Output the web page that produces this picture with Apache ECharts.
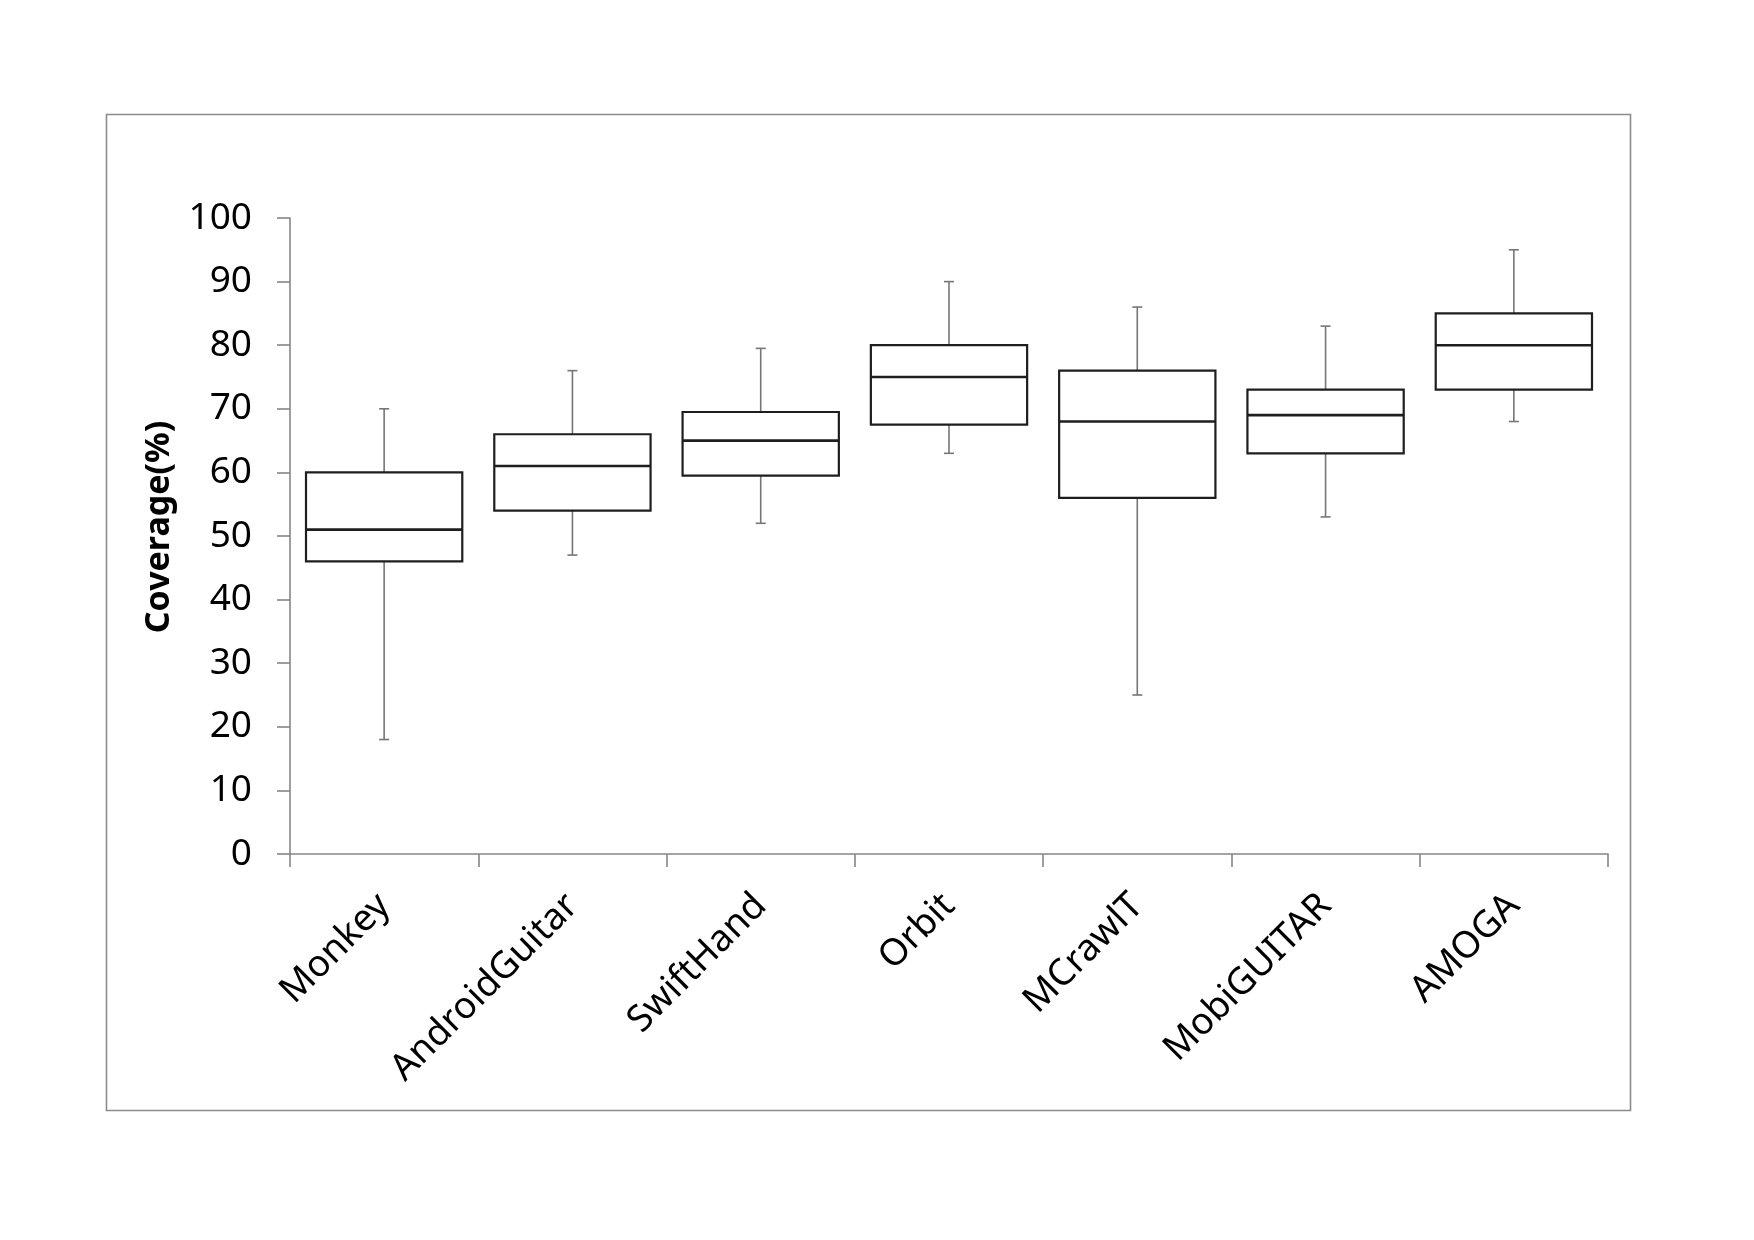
<!DOCTYPE html>
<html lang="en">
<head>
  <meta charset="UTF-8">
  <title>Coverage boxplot</title>
  <script src="https://cdn.jsdelivr.net/npm/echarts@6/dist/echarts.min.js"></script>
  <style>
    html, body { margin: 0; padding: 0; background: #fff; }
  </style>
</head>
<body>
  <div id="chart" style="width: 1754px; height: 1240px"></div>

  <script>
    const tools = ['Monkey', 'AndroidGuitar', 'SwiftHand', 'Orbit', 'MCrawlT', 'MobiGUITAR', 'AMOGA']
    const whiskerLow = [18, 47, 52, 63, 25, 53, 68]
    const q1 = [46, 54, 59.5, 67.5, 56, 63, 73]
    const median = [51, 61, 65, 75, 68, 69, 80]
    const q3 = [60, 66, 69.5, 80, 76, 73, 85]
    const whiskerHigh = [70, 76, 79.5, 90, 86, 83, 95]
    const yTicks = { min: 0, max: 100, interval: 10 }

    const dom = document.getElementById('chart')
    const myChart = echarts.init(dom)

    const boxData = tools.map((name, i) => [i, whiskerLow[i], q1[i], median[i], q3[i], whiskerHigh[i]])

    const boxColor = '#1e1e1e'
    const whiskerColor = '#767676'
    const axisColor = '#868686'

    function renderBox(params, api) {
      const x = api.value(0)
      const pLow = api.coord([x, api.value(1)])
      const pQ1 = api.coord([x, api.value(2)])
      const pMed = api.coord([x, api.value(3)])
      const pQ3 = api.coord([x, api.value(4)])
      const pHigh = api.coord([x, api.value(5)])
      const halfW = api.size([1, 0])[0] * 0.415
      const cap = 5
      const cx = pMed[0]
      const wStyle = { stroke: whiskerColor, lineWidth: 1.6 }
      return {
        type: 'group',
        children: [
          // 须线
          { type: 'line', shape: { x1: cx, y1: pQ3[1], x2: cx, y2: pHigh[1] }, style: wStyle },
          { type: 'line', shape: { x1: cx - cap, y1: pHigh[1], x2: cx + cap, y2: pHigh[1] }, style: wStyle },
          { type: 'line', shape: { x1: cx, y1: pQ1[1], x2: cx, y2: pLow[1] }, style: wStyle },
          { type: 'line', shape: { x1: cx - cap, y1: pLow[1], x2: cx + cap, y2: pLow[1] }, style: wStyle },
          // 箱体
          {
            type: 'rect',
            shape: { x: cx - halfW, y: pQ3[1], width: halfW * 2, height: pQ1[1] - pQ3[1] },
            style: { fill: '#fff', stroke: boxColor, lineWidth: 2.2 }
          },
          // 中位数
          {
            type: 'line',
            shape: { x1: cx - halfW, y1: pMed[1], x2: cx + halfW, y2: pMed[1] },
            style: { stroke: boxColor, lineWidth: 2.6 }
          }
        ]
      }
    }

    const option = {
      backgroundColor: '#fff',
      animation: false,
      graphic: [
        {
          type: 'rect',
          left: 104,
          top: 112,
          shape: { width: 1524, height: 996 },
          style: { fill: 'none', stroke: '#8c8c8c', lineWidth: 1.6 },
          z: -1
        },
        {
          type: 'text',
          x: 159,
          y: 527,
          rotation: Math.PI / 2,
          style: {
            text: 'Coverage(%)',
            fill: '#000',
            fontFamily: 'Noto Sans',
            fontWeight: 'bold',
            fontSize: 34,
            align: 'center',
            verticalAlign: 'middle'
          }
        }
      ],
      grid: {
        left: 290,
        right: 146,
        top: 218,
        bottom: 386
      },
      xAxis: {
        type: 'category',
        data: tools,
        boundaryGap: true,
        axisLine: { lineStyle: { color: axisColor, width: 1.6 } },
        axisTick: { show: true, length: 13, lineStyle: { color: axisColor, width: 1.6 } },
        axisLabel: {
          rotate: 45,
          margin: 46,
          interval: 0,
          color: '#000',
          fontFamily: 'Noto Sans',
          fontSize: 37
        },
        splitLine: { show: false }
      },
      yAxis: {
        type: 'value',
        min: yTicks.min,
        max: yTicks.max,
        interval: yTicks.interval,
        axisLine: { show: true, lineStyle: { color: axisColor, width: 1.6 } },
        axisTick: { show: true, length: 13, lineStyle: { color: axisColor, width: 1.6 } },
        axisLabel: {
          margin: 38,
          color: '#000',
          fontFamily: 'Noto Sans',
          fontSize: 37
        },
        splitLine: { show: false }
      },
      series: [
        {
          type: 'custom',
          renderItem: renderBox,
          encode: { x: 0, y: [1, 2, 3, 4, 5] },
          data: boxData
        }
      ]
    }

    myChart.setOption(option)
  </script>
</body>
</html>
